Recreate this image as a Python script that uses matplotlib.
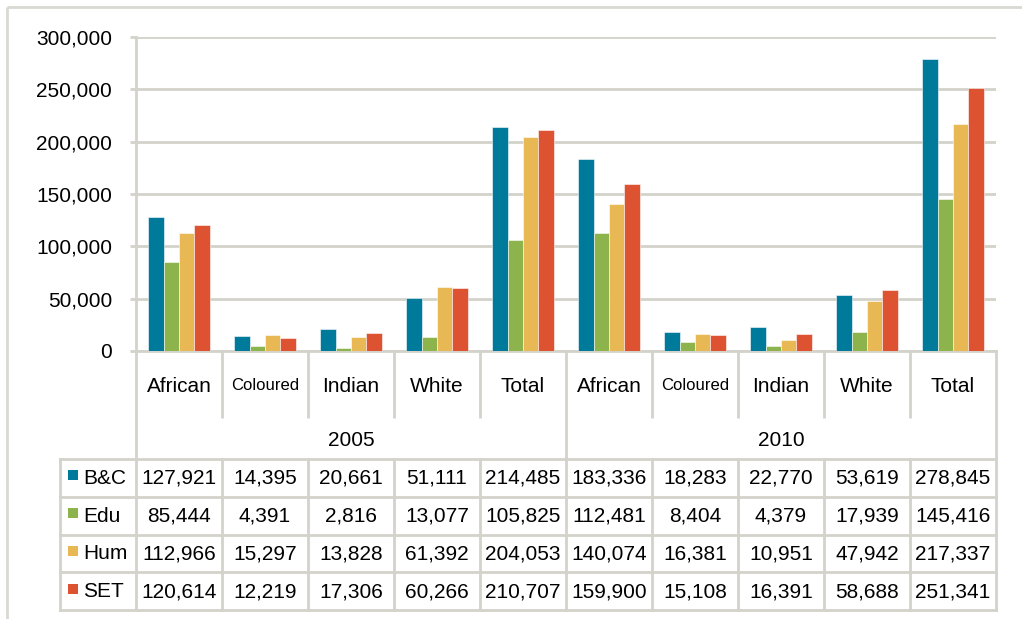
import matplotlib
matplotlib.use("Agg")
import matplotlib.pyplot as plt
from matplotlib.patches import Rectangle
from matplotlib.transforms import blended_transform_factory
import numpy as np

# ---- data -------------------------------------------------------------
years = ["2005", "2010"]
groups = ["African", "Coloured", "Indian", "White", "Total"]
categories = groups * len(years)
series_names = ["B&C", "Edu", "Hum", "SET"]
bc_values = [127921, 14395, 20661, 51111, 214485, 183336, 18283, 22770, 53619, 278845]
edu_values = [85444, 4391, 2816, 13077, 105825, 112481, 8404, 4379, 17939, 145416]
hum_values = [112966, 15297, 13828, 61392, 204053, 140074, 16381, 10951, 47942, 217337]
set_values = [120614, 12219, 17306, 60266, 210707, 159900, 15108, 16391, 58688, 251341]
series_values = [bc_values, edu_values, hum_values, set_values]
series_colors = ["#007A9B", "#8DB34D", "#E8B854", "#DD5230"]
y_ticks = [0, 50000, 100000, 150000, 200000, 250000, 300000]

# ---- style ------------------------------------------------------------
plt.rcParams["font.family"] = ["Liberation Sans", "DejaVu Sans"]
line_col = "#D3D3CB"
lw = 2.0
fs = 15

W, H = 1022, 619
fig = plt.figure(figsize=(W / 100, H / 100), dpi=100)
fig.patch.set_facecolor("white")

# full-figure layer in pixel units for the frame and the data table
bg = fig.add_axes([0, 0, 1, 1])
bg.set_xlim(0, W)
bg.set_ylim(H, 0)
bg.axis("off")
bg.set_zorder(0)

# chart area
ax = fig.add_axes([136 / W, 1 - 351 / H, 860 / W, 314 / H])
ax.set_zorder(1)
ax.patch.set_alpha(0)
n = len(categories)
ax.set_xlim(0, n)
ax.set_ylim(0, 300000)

x = np.arange(n) + 0.5
bw = 0.18
for k, (vals, col) in enumerate(zip(series_values, series_colors)):
    ax.bar(x + (k - 1.5) * bw, vals, width=bw, color=col,
           edgecolor=(1, 1, 1, 0.55), linewidth=0.7, zorder=3)

ax.set_yticks(y_ticks)
ax.set_yticklabels([f"{v:,}" for v in y_ticks])
ax.yaxis.grid(True, color=line_col, linewidth=lw, zorder=0)
ax.set_axisbelow(True)
ax.tick_params(axis="y", length=4.3, width=lw, color=line_col, pad=13,
               labelsize=fs, labelcolor="black")
ax.tick_params(axis="x", length=0, labelbottom=False)
for s in ["top", "right"]:
    ax.spines[s].set_visible(False)
for s in ["left", "bottom"]:
    ax.spines[s].set_color(line_col)
    ax.spines[s].set_linewidth(lw)

# ---- outer frame -------------------------------------------------------
bg.plot([7, W], [7, 7], color="#D9D9D3", lw=lw, solid_capstyle="butt")
bg.plot([7, 7], [7, H], color="#D9D9D3", lw=lw, solid_capstyle="butt")

# ---- data table --------------------------------------------------------
tr = blended_transform_factory(ax.transData, bg.transData)
y_axis = 351
y_cat_bottom = 418
y_year_bottom = 459
row_h = 37.75
row_edges = [y_year_bottom + i * row_h for i in range(len(series_names) + 1)]
leg_left = -76 / 86  # legend column width in category units

# horizontal rules
for y in row_edges:
    bg.plot([leg_left, n], [y, y], color=line_col, lw=lw, transform=tr,
            solid_capstyle="projecting")

# vertical rules
for i in range(n + 1):
    if i % len(groups) == 0:
        bg.plot([i, i], [y_axis, row_edges[-1]], color=line_col, lw=lw,
                transform=tr, solid_capstyle="projecting")
    else:
        bg.plot([i, i], [y_axis, y_cat_bottom], color=line_col, lw=lw,
                transform=tr, solid_capstyle="butt")
        bg.plot([i, i], [y_year_bottom, row_edges[-1]], color=line_col, lw=lw,
                transform=tr, solid_capstyle="projecting")
bg.plot([leg_left, leg_left], [y_year_bottom, row_edges[-1]], color=line_col,
        lw=lw, transform=tr, solid_capstyle="projecting")

# category labels
for i, c in enumerate(categories):
    size = 12 if c == "Coloured" else fs
    bg.text(i + 0.5, 386, c, transform=tr, ha="center", va="center",
            fontsize=size, color="black")

# year labels
for j, yr in enumerate(years):
    bg.text(j * len(groups) + len(groups) / 2, 440.5, yr, transform=tr,
            ha="center", va="center", fontsize=fs, color="black")

# legend keys and values
key_w = 10 / 86
for r, (name, vals, col) in enumerate(zip(series_names, series_values, series_colors)):
    yc = (row_edges[r] + row_edges[r + 1]) / 2
    bg.add_patch(Rectangle((-68.3 / 86, yc - 7.5), key_w, 10, facecolor=col,
                           edgecolor="none", transform=tr))
    bg.text(-52.7 / 86, yc + 0.5, name, transform=tr, ha="left", va="center",
            fontsize=fs, color="black")
    for i, v in enumerate(vals):
        bg.text(i + 0.5, yc + 0.5, f"{v:,}", transform=tr, ha="center",
                va="center", fontsize=fs, color="black")

fig.savefig("out.png", dpi=100, facecolor="white")
